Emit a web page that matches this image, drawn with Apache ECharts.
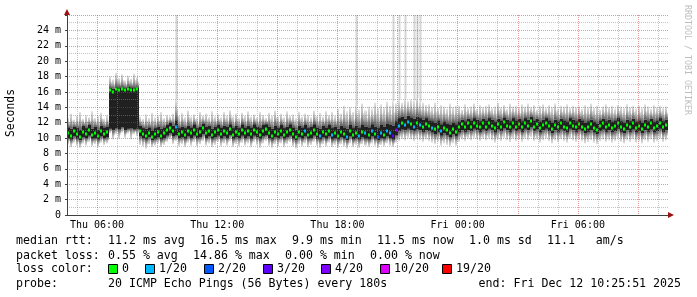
<!DOCTYPE html>
<html><head><meta charset="utf-8">
<script src="https://cdn.jsdelivr.net/npm/echarts@6/dist/echarts.min.js"></script>
<style>html,body{margin:0;padding:0;background:#fff}#c{width:697px;height:297px}</style>
</head><body><div id="c"></div>
<script>
// one sample every 9 minutes (3 x 180 s); x axis has one category per 180 s step
const STEP = 3;
// median rtt (ms), per sample
const median = [
10.7,10.3,10.9,10.5,10.2,10.8,10.5,11.0,10.4,10.7,
10.3,10.9,10.5,10.8,16.2,16.0,16.4,16.3,16.4,16.3,
16.4,16.3,16.2,16.4,10.9,10.5,10.3,10.7,10.2,10.5,
10.8,10.3,10.6,11.0,11.3,10.9,11.5,10.5,10.8,10.4,
10.9,10.6,11.1,10.5,10.8,11.3,10.6,10.9,10.4,10.8,
11.1,10.5,10.9,10.6,11.2,10.4,10.8,10.5,11.1,10.6,
10.9,10.5,11.1,10.8,10.4,10.9,11.2,10.6,10.3,10.8,
10.5,10.9,10.4,10.8,11.1,10.5,10.2,10.8,10.5,10.9,
10.4,10.7,11.1,10.5,10.3,10.8,10.5,10.9,10.4,10.7,
10.3,10.8,10.5,10.2,10.9,10.4,10.7,10.3,10.8,10.6,
10.4,10.9,10.5,10.2,10.7,10.4,10.9,10.6,10.3,11.0,
11.6,11.9,11.7,12.1,11.8,11.5,11.9,11.7,11.4,11.8,
11.6,11.3,11.2,11.5,10.9,11.3,11.0,10.7,11.2,10.8,
11.4,11.8,11.4,11.9,11.5,12.0,11.6,11.4,11.9,11.5,
12.0,11.6,11.3,11.8,11.5,12.1,11.6,11.4,11.9,11.5,
11.8,11.4,11.9,11.6,12.2,11.5,11.8,11.3,11.7,12.0,
11.6,11.2,11.7,11.4,11.9,11.5,11.3,11.9,11.6,11.4,
11.8,11.5,11.2,11.5,11.8,11.3,11.1,11.6,11.9,11.4,
11.7,11.3,11.6,12.0,11.4,11.2,11.7,11.4,11.9,11.3,
11.6,11.2,11.7,11.4,11.9,11.3,11.6,12.0,11.4,11.7];
// dense smoke core, upper edge (ms)
const coreHi = [
11.4,11.2,11.5,11.3,11.1,11.6,11.3,11.7,11.2,11.5,
11.1,11.6,11.4,11.5,16.5,16.4,16.7,16.6,16.6,16.5,
16.7,16.6,16.5,16.6,11.6,11.3,11.2,11.4,11.0,11.3,
11.5,11.2,11.4,11.7,12.0,11.6,12.3,11.3,11.5,11.3,
11.6,11.4,11.8,11.3,11.5,11.9,11.5,11.6,11.2,11.5,
11.7,11.4,11.6,11.5,11.8,11.3,11.6,11.3,11.8,11.4,
11.6,11.4,11.8,11.5,11.3,11.7,11.8,11.5,11.2,11.6,
11.3,11.7,11.3,11.5,11.8,11.4,11.1,11.6,11.4,11.7,
11.3,11.5,11.8,11.4,11.2,11.6,11.4,11.7,11.3,11.5,
11.2,11.6,11.4,11.2,11.7,11.3,11.6,11.3,11.7,11.5,
11.4,11.8,11.5,11.3,11.7,11.5,11.9,11.7,11.6,12.2,
12.6,12.8,12.5,12.9,12.7,12.5,12.8,12.6,12.4,12.6,
12.3,12.2,12.0,12.3,11.8,12.1,11.9,11.7,12.0,11.8,
12.1,12.4,12.2,12.5,12.3,12.6,12.4,12.2,12.5,12.3,
12.6,12.4,12.1,12.5,12.3,12.7,12.4,12.2,12.6,12.3,
12.5,12.2,12.6,12.4,12.8,12.3,12.5,12.1,12.4,12.6,
12.3,12.0,12.4,12.2,12.5,12.3,12.1,12.6,12.4,12.2,
12.5,12.3,12.0,12.2,12.4,12.1,11.9,12.3,12.5,12.2,
12.4,12.1,12.3,12.6,12.2,12.0,12.4,12.2,12.5,12.1,
12.3,12.0,12.4,12.2,12.5,12.1,12.3,12.6,12.2,12.4];
// dense smoke core, lower edge (ms)
const coreLo = [
10.0, 9.8,10.2, 9.9, 9.7,10.1,10.0,10.3, 9.9,10.0,
 9.8,10.2,10.0,10.1,11.2,11.0,11.3,11.1,11.4,11.0,
11.2,11.3,11.1,11.2,10.2,10.0, 9.8,10.1, 9.7, 9.9,
10.1, 9.8,10.0,10.3,10.6,10.2,10.4,10.0,10.1, 9.9,
10.2,10.0,10.3,10.0,10.1,10.5,10.0,10.2, 9.9,10.1,
10.3,10.0,10.2,10.0,10.4, 9.9,10.1,10.0,10.3,10.0,
10.2, 9.9,10.3,10.1, 9.9,10.2,10.4,10.0, 9.8,10.1,
10.0,10.2, 9.9,10.1,10.3, 9.9, 9.7,10.1, 9.9,10.2,
 9.9,10.0,10.3, 9.9, 9.8,10.1, 9.9,10.2, 9.8,10.0,
 9.8,10.1, 9.9, 9.7,10.2, 9.8,10.0, 9.8,10.1, 9.9,
 9.8,10.2, 9.9, 9.7,10.0, 9.9,10.2,10.0, 9.8,10.4,
10.9,11.1,11.0,11.2,11.0,10.9,11.1,11.0,10.8,11.0,
10.9,10.7,10.5,10.8,10.3,10.6,10.4,10.1,10.5,10.2,
10.7,11.0,10.8,11.0,10.9,11.2,11.0,10.8,11.1,10.9,
11.2,11.0,10.7,11.1,10.9,11.3,11.0,10.8,11.2,10.9,
11.1,10.8,11.2,11.0,11.4,10.9,11.1,10.7,11.0,11.2,
10.9,10.6,11.0,10.8,11.1,10.9,10.7,11.2,11.0,10.8,
11.1,10.9,10.6,10.8,11.0,10.7,10.5,10.9,11.1,10.8,
11.0,10.7,10.9,11.2,10.8,10.6,11.0,10.8,11.1,10.7,
10.9,10.6,11.0,10.8,11.1,10.7,10.9,11.2,10.8,11.0];
// outer smoke, highest ping (ms)
const smokeHi = [
12.6,13.2,12.4,12.9,13.4,12.5,13.0,12.7,13.5,12.6,
12.9,13.3,12.5,13.0,18.0,17.6,18.5,17.8,18.3,17.5,
18.1,17.7,18.4,17.9,12.8,12.5,13.1,12.6,13.3,12.7,
12.9,13.4,12.6,13.0,12.8,13.2,15.0,12.9,13.3,12.7,
13.6,12.8,13.1,12.6,13.4,12.9,13.2,12.7,13.5,12.8,
13.1,12.7,13.4,12.9,13.6,12.8,13.2,12.6,13.3,12.9,
13.5,12.8,13.1,12.7,13.4,13.0,12.6,13.3,12.9,13.6,
12.8,13.2,12.7,13.5,12.9,13.1,12.6,13.4,12.8,13.2,
13.0,12.7,13.6,12.9,13.3,12.8,13.5,13.0,13.4,12.9,
13.8,13.2,14.2,13.5,14.0,13.4,14.3,13.7,14.5,13.6,
14.1,13.8,14.6,13.9,14.4,14.0,14.7,14.2,14.8,14.5,
15.0,14.6,15.1,14.8,15.0,14.9,15.2,14.7,14.6,14.3,
14.4,14.0,14.6,13.9,14.3,14.1,13.8,14.5,14.0,14.2,
14.2,13.7,14.4,13.9,14.1,14.5,13.8,14.3,14.0,14.2,
14.4,13.9,14.1,14.6,14.0,14.3,13.8,14.5,14.1,14.2,
13.9,14.4,14.1,14.5,14.0,14.3,13.7,14.2,14.4,13.9,
14.3,14.0,14.5,13.8,14.2,14.1,14.4,13.9,14.2,14.0,
14.1,13.8,14.3,14.0,14.5,13.9,14.2,13.7,14.1,14.4,
14.0,14.2,13.8,14.3,14.1,13.9,14.4,14.0,14.2,13.8,
14.2,13.9,14.4,14.1,13.8,14.3,14.0,14.2,13.9,14.1];
// outer smoke, lowest ping (ms)
const smokeLo = [
 9.2, 8.8, 9.4, 9.0, 8.7, 9.3, 9.0, 9.5, 8.9, 9.2,
 8.8, 9.4, 9.1, 9.3,10.6, 9.8,10.5, 9.9,10.7,10.0,
10.6, 9.8,10.5,10.2, 9.1, 8.9, 8.6, 9.2, 8.8, 9.0,
 9.3, 8.8, 9.1, 9.5, 9.8, 9.2, 9.6, 8.9, 9.2, 8.8,
 9.4, 9.0, 9.5, 8.9, 9.2, 9.6, 9.0, 9.3, 8.8, 9.1,
 9.5, 8.9, 9.3, 9.0, 9.6, 8.8, 9.2, 8.9, 9.4, 9.0,
 9.3, 8.8, 9.5, 9.1, 8.7, 9.3, 9.6, 9.0, 8.7, 9.2,
 8.9, 9.3, 8.8, 9.2, 9.5, 8.9, 8.6, 9.2, 8.9, 9.3,
 8.8, 9.1, 9.5, 9.0, 8.7, 9.2, 8.9, 9.4, 8.8, 9.1,
 8.7, 9.2, 8.9, 8.6, 9.3, 8.8, 9.1, 8.7, 9.2, 9.0,
 8.8, 9.3, 9.0, 8.7, 9.1, 8.9, 9.3, 9.0, 8.8, 9.4,
 9.6, 9.9, 9.7,10.0, 9.8, 9.6, 9.9, 9.7, 9.5, 9.8,
 9.6, 9.4, 9.2, 9.5, 9.0, 9.3, 9.1, 8.9, 9.3, 9.0,
 9.5, 9.8, 9.6, 9.9, 9.7,10.0, 9.8, 9.6, 9.9, 9.7,
 9.9, 9.7, 9.4, 9.8, 9.6,10.0, 9.7, 9.5, 9.9, 9.6,
 9.8, 9.5, 9.9, 9.7,10.1, 9.6, 9.8, 9.4, 9.7, 9.9,
 9.6, 9.3, 9.7, 9.5, 9.8, 9.6, 9.4, 9.9, 9.7, 9.5,
 9.8, 9.6, 9.3, 9.5, 9.7, 9.4, 9.2, 9.6, 9.8, 9.5,
 9.7, 9.4, 9.6, 9.9, 9.5, 9.3, 9.7, 9.5, 9.8, 9.4,
 9.6, 9.3, 9.7, 9.5, 9.8, 9.4, 9.6, 9.9, 9.5, 9.7];
// lost pings out of 20, per sample
const loss = [
0,0,0,0,0,0,0,0,0,0, 0,0,0,0,0,0,0,0,0,0,
0,0,0,0,0,0,0,0,0,0, 0,0,0,0,0,0,1,0,0,0,
0,0,0,0,0,0,0,0,0,0, 0,0,0,0,0,0,0,0,0,0,
0,0,0,0,0,0,0,0,0,0, 0,0,0,0,0,0,0,0,0,1,
0,0,0,0,1,0,0,0,1,0, 0,0,0,1,0,0,0,1,0,1,
0,1,0,2,1,0,1,1,3,4, 1,0,1,1,0,1,0,1,0,0,
0,1,0,0,1,0,0,0,0,0, 0,0,0,0,0,0,0,0,0,0,
0,0,0,0,0,0,0,0,0,0, 0,0,0,0,0,0,0,0,0,0,
0,0,0,0,0,0,0,0,0,0, 0,0,0,0,0,0,0,0,0,0,
0,0,0,0,0,0,0,0,0,0, 0,0,0,0,0,0,0,0,0,0];
// isolated very slow pings (off the top of the scale)
const spikeSample = [36, 96, 108, 110, 112, 115, 116, 117];
const spikeTop    = [26, 26, 26, 26, 26, 26, 26, 26];

// axes
const xStepCount = 600;              // 30 h of 180 s steps
const xTickLabels = ['Thu 06:00','Thu 12:00','Thu 18:00','Fri 00:00','Fri 06:00'];
const xTickStep   = [30, 150, 270, 390, 510];
const hourOffset = 10, hourSteps = 20, majorEvery = 60;
const yTicks = [0,2,4,6,8,10,12,14,16,18,20,22,24];

const lossLevels = [0, 1, 2, 3, 4, 10, 19];
const lossColors = ['#00ff00','#00b8ff','#0059ff','#5e00ff','#7e00ff','#dd00ff','#ff0000'];
const lossLabels = ['0','1/20','2/20','3/20','4/20','10/20','19/20'];

const statsLine1 = [['median rtt:',16],['11.2 ms avg',108],['16.5 ms max',200],['9.9 ms min',292],['11.5 ms now',377],['1.0 ms sd',469],['11.1   am/s',547]];
const statsLine2 = [['packet loss:',16],['0.55 % avg',108],['14.86 % max',193],['0.00 % min',285],['0.00 % now',370]];
const probeText = ['probe:', '20 ICMP Echo Pings (56 Bytes) every 180s', 'end: Fri Dec 12 10:25:51 2025'];

function lossColor(n){ let c = lossColors[0]; for (let i=0;i<lossLevels.length;i++) if (n>=lossLevels[i]) c = lossColors[i]; return c; }

const cats = []; for (let i=0;i<=xStepCount;i++){ const j = xTickStep.indexOf(i); cats.push(j>=0 ? xTickLabels[j] : ''); }

const smokeData = median.map((m,i)=>[i*STEP, smokeLo[i], coreLo[i], coreHi[i], smokeHi[i]]);
const medData = median.map((m,i)=>[i*STEP, m, loss[i]]);
const spikeData = spikeSample.map((s,i)=>[s*STEP, smokeHi[s], spikeTop[i]]);

const gUp = () => new echarts.graphic.LinearGradient(0,0,0,1,[{offset:0,color:'#e4e4e4'},{offset:0.5,color:'#b0b0b0'},{offset:1,color:'#585858'}]);
const gDn = () => new echarts.graphic.LinearGradient(0,0,0,1,[{offset:0,color:'#585858'},{offset:0.5,color:'#b0b0b0'},{offset:1,color:'#e4e4e4'}]);

function xs(api, k){ return [Math.round(api.coord([k,0])[0]), Math.round(api.coord([Math.min(k+STEP,xStepCount),0])[0])]; }

function renderSmoke(params, api){
  const k = api.value(0); const [xa, xb] = xs(api, k);
  const y = (d)=>api.coord([k, api.value(d)])[1];
  const yLo=y(1), yCLo=y(2), yCHi=y(3), yHi=y(4);
  const w = xb - xa;
  // third pixel column of each sample drawn shorter, giving the streaked smoke look
  const yHi2 = yCHi - (yCHi - yHi) * 0.55, yLo2 = yCLo + (yLo - yCLo) * 0.55;
  return {type:'group', children:[
    {type:'rect', shape:{x:xa,y:yHi,width:w-1,height:yCHi-yHi}, style:{fill:gUp()}},
    {type:'rect', shape:{x:xa,y:yCLo,width:w-1,height:yLo-yCLo}, style:{fill:gDn()}},
    {type:'rect', shape:{x:xb-1,y:yHi2,width:1,height:yCHi-yHi2}, style:{fill:gUp()}},
    {type:'rect', shape:{x:xb-1,y:yCLo,width:1,height:yLo2-yCLo}, style:{fill:gDn()}},
    {type:'rect', shape:{x:xa,y:yCHi,width:w,height:yCLo-yCHi}, style:{fill:'#202020'}}
  ]};
}
function renderSpike(params, api){
  const k = api.value(0); const [xa, xb] = xs(api, k);
  const y1 = api.coord([k, api.value(1)])[1], y2 = api.coord([k, api.value(2)])[1];
  return {type:'rect', shape:{x:xa+0.5,y:y2,width:xb-xa-1,height:y1-y2}, style:{fill:'#d4d4d4'}};
}
function renderMedian(params, api){
  const k = api.value(0); const [xa, xb] = xs(api, k);
  const ym = api.coord([k, api.value(1)])[1];
  return {type:'rect', shape:{x:xa,y:Math.round(ym)-1.5,width:2,height:3}, style:{fill:lossColor(api.value(2))}};
}

const MONO = '"DejaVu Sans Mono", monospace';
const graphics = [];
graphics.push({type:'text', x:11, y:113, rotation:Math.PI/2, style:{text:'Seconds', font:'11.4px '+MONO, fill:'#000', align:'center', verticalAlign:'middle'}});
graphics.push({type:'text', x:687, y:60, rotation:-Math.PI/2, style:{text:'RRDTOOL / TOBI OETIKER', font:'8.3px '+MONO, fill:'#bdbdbd', align:'center', verticalAlign:'middle'}});
graphics.push({type:'polygon', shape:{points:[[64,15],[70,15],[67,9]]}, style:{fill:'#a01010'}});
graphics.push({type:'polygon', shape:{points:[[668,212],[668,218],[674,215]]}, style:{fill:'#a01010'}});
const LF = '11.6px '+MONO;
statsLine1.forEach(([t,x])=>graphics.push({type:'text', x:x, y:241, style:{text:t, font:LF, fill:'#000', verticalAlign:'middle'}}));
statsLine2.forEach(([t,x])=>graphics.push({type:'text', x:x, y:256, style:{text:t, font:LF, fill:'#000', verticalAlign:'middle'}}));
graphics.push({type:'text', x:16, y:269, style:{text:'loss color:', font:LF, fill:'#000', verticalAlign:'middle'}});
const boxX = [108,145,204,263,321,380,442];
lossLabels.forEach((l,i)=>{
  graphics.push({type:'rect', shape:{x:boxX[i]+0.5,y:264.5,width:9,height:9}, style:{fill:lossColors[i], stroke:'#000', lineWidth:1}});
  graphics.push({type:'text', x:boxX[i]+14, y:269, style:{text:l, font:LF, fill:'#000', verticalAlign:'middle'}});
});
graphics.push({type:'text', x:16, y:284, style:{text:probeText[0], font:LF, fill:'#000', verticalAlign:'middle'}});
graphics.push({type:'text', x:108, y:284, style:{text:probeText[1], font:LF, fill:'#000', verticalAlign:'middle'}});
graphics.push({type:'text', x:681, y:284, style:{text:probeText[2], font:LF, fill:'#000', align:'right', verticalAlign:'middle'}});

const chart = echarts.init(document.getElementById('c'), null, {renderer:'canvas'});
chart.setOption({
  animation:false,
  backgroundColor:'#ffffff',
  grid:{left:67, top:15, width:601, height:200, containLabel:false},
  xAxis:[
    {type:'category', data:cats, boundaryGap:false, z:5,
     axisLine:{show:true, lineStyle:{color:'#404040', width:1}},
     axisTick:{show:false},
     axisLabel:{interval:(i)=>xTickStep.indexOf(i)>=0, margin:5, fontFamily:'DejaVu Sans Mono', fontSize:10, color:'#000'},
     splitLine:{show:true, interval:(i)=> (i-hourOffset)%majorEvery===20 && i>0, lineStyle:{color:'rgba(200,50,50,0.5)', type:[1,1], width:1}}},
    {type:'category', data:cats, boundaryGap:false, z:4, gridIndex:0,
     axisLine:{show:false}, axisTick:{show:false}, axisLabel:{show:false},
     splitLine:{show:true, interval:(i)=> (i-hourOffset)%hourSteps===0 && (i-hourOffset)%majorEvery!==20, lineStyle:{color:'rgba(140,140,140,0.5)', type:[1,1], width:1}}}
  ],
  yAxis:{type:'value', min:0, max:26, interval:2, z:5,
     axisLine:{show:true, lineStyle:{color:'#404040'}},
     axisTick:{show:true, length:2, lineStyle:{color:'#404040'}},
     axisLabel:{margin:6, fontFamily:'DejaVu Sans Mono', fontSize:10, color:'#000', formatter:(v)=> yTicks.indexOf(v)<0 ? '' : (v===0?'0':v+' m')},
     splitLine:{show:true, lineStyle:{color:'rgba(200,50,50,0.5)', type:[1,1]}},
     minorTick:{show:false, splitNumber:2},
     minorSplitLine:{show:true, lineStyle:{color:'rgba(140,140,140,0.5)', type:[1,1]}}},
  series:[
    {type:'custom', name:'smoke', renderItem:renderSmoke, data:smokeData, clip:true, z:1, encode:{x:0, y:[1,4]}},
    {type:'custom', name:'spikes', renderItem:renderSpike, data:spikeData, clip:true, z:1, encode:{x:0, y:[1,2]}},
    {type:'custom', name:'median', renderItem:renderMedian, data:medData, clip:true, z:2, encode:{x:0, y:1}}
  ],
  graphic:graphics
});
</script></body></html>
